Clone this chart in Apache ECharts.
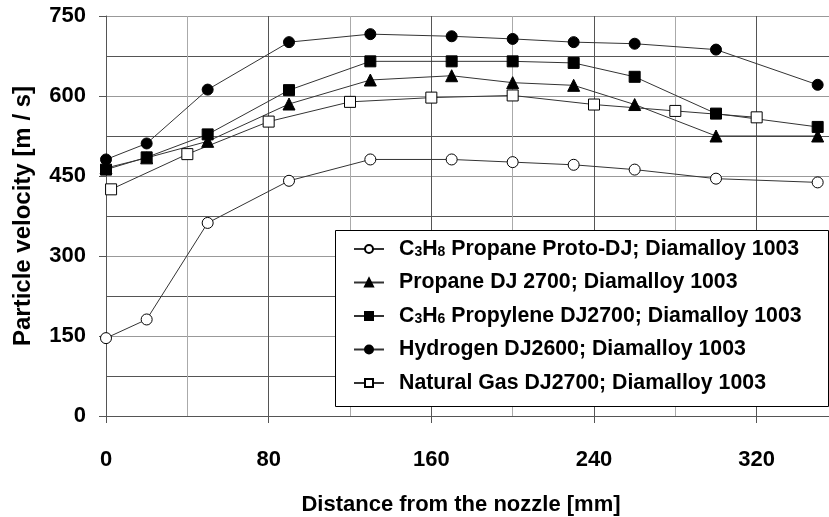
<!DOCTYPE html>
<html>
<head>
<meta charset="utf-8">
<script src="https://cdn.jsdelivr.net/npm/echarts@6/dist/echarts.min.js"></script>
<style>
html,body{margin:0;padding:0;overflow:hidden;background:#fff;width:829px;height:517px;}
#chart{width:860px;height:517px;}
</style>
</head>
<body>
<div id="chart"></div>
<script>
// Data
var protoX = [0, 20, 50, 90, 130, 170, 200, 230, 260, 300, 350];
var protoY = [146, 181, 362, 441, 481, 481, 476, 471, 462, 445, 438];

var propaneX = [0, 20, 50, 90, 130, 170, 200, 230, 260, 300, 350];
var propaneY = [465, 484, 515, 585, 630, 638, 625, 620, 584, 525, 525];

var propyleneX = [0, 20, 50, 90, 130, 170, 200, 230, 260, 300, 350];
var propyleneY = [462, 485, 528, 611, 665, 665, 665, 662, 636, 567, 542];

var hydrogenX = [0, 20, 50, 90, 130, 170, 200, 230, 260, 300, 350];
var hydrogenY = [481, 511, 612, 701, 716, 712, 707, 701, 698, 687, 621];

var gasX = [2.5, 40, 80, 120, 160, 200, 240, 280, 320];
var gasY = [425, 491, 552, 589, 597, 601, 584, 572, 560];

var seriesNames = [
  'C3H8 Propane Proto-DJ; Diamalloy 1003',
  'Propane DJ 2700; Diamalloy 1003',
  'C3H6 Propylene DJ2700; Diamalloy 1003',
  'Hydrogen DJ2600; Diamalloy 1003',
  'Natural Gas DJ2700; Diamalloy 1003'
];
var xTitle = 'Distance from the nozzle [mm]';
var yTitle = 'Particle velocity [m / s]';

function pairs(xs, ys) { return xs.map(function (x, i) { return [x, ys[i]]; }); }

var FONT = '"Liberation Sans", Arial, sans-serif';
var chart = echarts.init(document.getElementById('chart'), null, {renderer: 'canvas'});

function mk(name, xs, ys, symbol, fill) {
  return {
    name: name, type: 'line', data: pairs(xs, ys),
    symbol: symbol, symbolSize: symbol === 'triangle' ? 12 : 11,
    showSymbol: true,
    lineStyle: {color: '#333', width: 1},
    itemStyle: {color: fill, borderColor: '#000', borderWidth: 1},
    emphasis: {disabled: true},
    animation: false, z: 3
  };
}

chart.setOption({
  animation: false,
  grid: {left: 106, right: 22, top: 16, bottom: 101, containLabel: false, outerBoundsMode: 'none'},
  xAxis: {
    type: 'value', min: 0, max: 360, interval: 80,
    name: xTitle, nameLocation: 'middle', nameGap: 78,
    nameTextStyle: {fontFamily: FONT, fontWeight: 'bold', fontSize: 22, color: '#000', padding: [0, 22, 0, 0]},
    axisLine: {show: true, lineStyle: {color: '#555', width: 1}},
    axisTick: {show: true, length: 7, lineStyle: {color: '#555'}},
    axisLabel: {fontFamily: FONT, fontWeight: 'bold', fontSize: 22, color: '#000', margin: 33,
      formatter: function (v) { return v % 80 === 0 ? String(v) : ''; }, showMaxLabel: false},
    splitLine: {show: true, lineStyle: {color: '#555', width: 1}},
    minorTick: {show: false, splitNumber: 2},
    minorSplitLine: {show: true, lineStyle: {color: '#aaa', width: 1}}
  },
  yAxis: {
    type: 'value', min: 0, max: 750, interval: 150,
    name: yTitle, nameLocation: 'middle', nameGap: 71, nameRotate: 90,
    nameTextStyle: {fontFamily: FONT, fontWeight: 'bold', fontSize: 24, color: '#000'},
    axisLine: {show: true, lineStyle: {color: '#555', width: 1}},
    axisTick: {show: true, length: 7, lineStyle: {color: '#555'}},
    axisLabel: {fontFamily: FONT, fontWeight: 'bold', fontSize: 22, color: '#000', margin: 20},
    splitLine: {show: true, lineStyle: {color: '#999', width: 1}},
    minorTick: {show: false, splitNumber: 2},
    minorSplitLine: {show: true, lineStyle: {color: '#555', width: 1}}
  },
  graphic: [{
    type: 'rect', z: 10, silent: true,
    shape: {x: 335.5, y: 230.5, width: 493, height: 176},
    style: {fill: '#fff', stroke: '#000', lineWidth: 1}
  }],
  legend: {
    orient: 'vertical', left: 353, top: 237, z: 20,
    itemWidth: 30, itemHeight: 10, itemGap: 9.5,
    padding: 0,
    selectedMode: false,
    data: seriesNames,
    textStyle: {
      fontFamily: FONT, fontWeight: 'bold', fontSize: 21.3, color: '#000', lineHeight: 24,
      padding: [0, 0, 0, 10],
      rich: {
        n: {fontFamily: FONT, fontWeight: 'bold', fontSize: 21.3, color: '#000', lineHeight: 24},
        s: {fontFamily: FONT, fontWeight: 'bold', fontSize: 14, color: '#000', lineHeight: 24, padding: [6, 0, 0, 0]}
      }
    },
    formatter: function (name) {
      var m = name.match(/^C(\d)H(\d)(.*)$/);
      if (m) {
        return '{n|C}{s|' + m[1] + '}{n|H}{s|' + m[2] + '}{n|' + m[3] + '}';
      }
      return name;
    }
  },
  series: [
    mk(seriesNames[0], protoX, protoY, 'circle', '#fff'),
    mk(seriesNames[1], propaneX, propaneY, 'triangle', '#000'),
    mk(seriesNames[2], propyleneX, propyleneY, 'rect', '#000'),
    mk(seriesNames[3], hydrogenX, hydrogenY, 'circle', '#000'),
    mk(seriesNames[4], gasX, gasY, 'rect', '#fff')
  ]
});
</script>
</body>
</html>
